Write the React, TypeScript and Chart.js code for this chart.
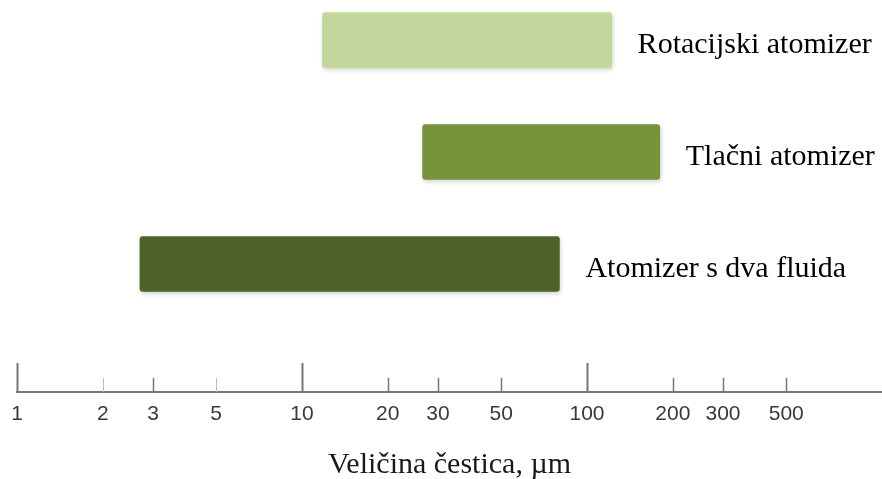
import React, { useEffect, useRef } from 'react';
import { Chart, registerables } from 'chart.js';

Chart.register(...registerables);

const categories = ['Rotacijski atomizer', 'Tlačni atomizer', 'Atomizer s dva fluida'];
const rowIndex = [0, 1, 2];
const rangeMin = [11.8, 26.5, 2.7];
const rangeMax = [122, 180, 80];
const barColors = ['#c3d69b', '#77933c', '#4f6228'];
const tickValues = [1, 2, 3, 5, 10, 20, 30, 50, 100, 200, 300, 500];
const majorTicks = [1, 10, 100];
const faintTicks = [2, 5];
const axisTitle = 'Veličina čestica, µm';

const barShadowPlugin = {
  id: 'barShadow',
  beforeDatasetsDraw(chart: any) {
    const { ctx } = chart;
    ctx.save();
    ctx.shadowColor = 'rgba(0,0,0,0.18)';
    ctx.shadowBlur = 4;
    ctx.shadowOffsetX = 1;
    ctx.shadowOffsetY = 2;
  },
  afterDatasetsDraw(chart: any) {
    chart.ctx.restore();
  },
};

const barLabelsPlugin = {
  id: 'barLabels',
  afterDatasetsDraw(chart: any) {
    const { ctx } = chart;
    const xs = chart.scales.x;
    const ys = chart.scales.y;
    ctx.save();
    ctx.font = '30px "Liberation Serif", "Times New Roman", serif';
    ctx.fillStyle = '#000';
    ctx.textAlign = 'left';
    ctx.textBaseline = 'middle';
    categories.forEach((name, i) => {
      const x = xs.getPixelForValue(rangeMax[i]) + 26;
      const y = ys.getPixelForValue(rowIndex[i]);
      ctx.fillText(name, x, y + 5);
    });
    ctx.restore();
  },
};

const tickMarksPlugin = {
  id: 'tickMarks',
  afterDraw(chart: any) {
    const { ctx } = chart;
    const xs = chart.scales.x;
    const yAxis = chart.chartArea.bottom;
    ctx.save();
    tickValues.forEach((v) => {
      const x = Math.round(xs.getPixelForValue(v)) + 0.5;
      const major = majorTicks.includes(v);
      const faint = faintTicks.includes(v);
      ctx.strokeStyle = faint ? '#bbb' : '#777';
      ctx.lineWidth = major ? 2 : faint ? 1 : 1.5;
      ctx.beginPath();
      ctx.moveTo(x, yAxis);
      ctx.lineTo(x, yAxis - (major ? 29 : 14));
      ctx.stroke();
    });
    ctx.restore();
  },
};

export default function App() {
  const ref = useRef<HTMLCanvasElement | null>(null);

  useEffect(() => {
    document.body.style.margin = '0';
    const canvas = ref.current;
    if (!canvas) return;
    const chart = new Chart(canvas, {
      type: 'bar',
      data: {
        datasets: [
          {
            data: categories.map((_, i) => ({ x: [rangeMin[i], rangeMax[i]], y: rowIndex[i] })) as any,
            backgroundColor: barColors,
            borderWidth: 0,
            borderRadius: 3,
            borderSkipped: false,
            barThickness: 55,
          },
        ],
      },
      options: {
        indexAxis: 'y',
        responsive: false,
        animation: false,
        layout: { padding: { left: 17, right: 0, top: 0, bottom: 0 } },
        plugins: { legend: { display: false }, tooltip: { enabled: false } },
        scales: {
          y: {
            type: 'linear',
            display: false,
            reverse: true,
            offset: false,
            min: -0.357,
            max: 3.143,
          },
          x: {
            type: 'logarithmic',
            min: 1,
            max: 1084,
            afterBuildTicks: (scale: any) => {
              scale.ticks = tickValues.map((v) => ({ value: v }));
            },
            afterFit: (scale: any) => {
              scale.height = 87;
            },
            grid: { display: false, drawTicks: false },
            border: { display: true, color: '#777', width: 2 },
            ticks: {
              autoSkip: false,
              maxRotation: 0,
              padding: 10,
              color: '#3a3a3a',
              font: { family: '"Liberation Sans", Arial, sans-serif', size: 21 },
              callback: (value: any) => String(value),
            },
            title: {
              display: true,
              text: axisTitle,
              color: '#1a1a1a',
              font: { family: '"Liberation Serif", "Times New Roman", serif', size: 30 },
              padding: { top: 10, bottom: -4 },
            },
          },
        },
      },
      plugins: [barShadowPlugin, barLabelsPlugin, tickMarksPlugin],
    });
    return () => chart.destroy();
  }, []);

  return (
    <div style={{ width: 882, height: 479 }}>
      <canvas ref={ref} width={882} height={479} />
    </div>
  );
}
